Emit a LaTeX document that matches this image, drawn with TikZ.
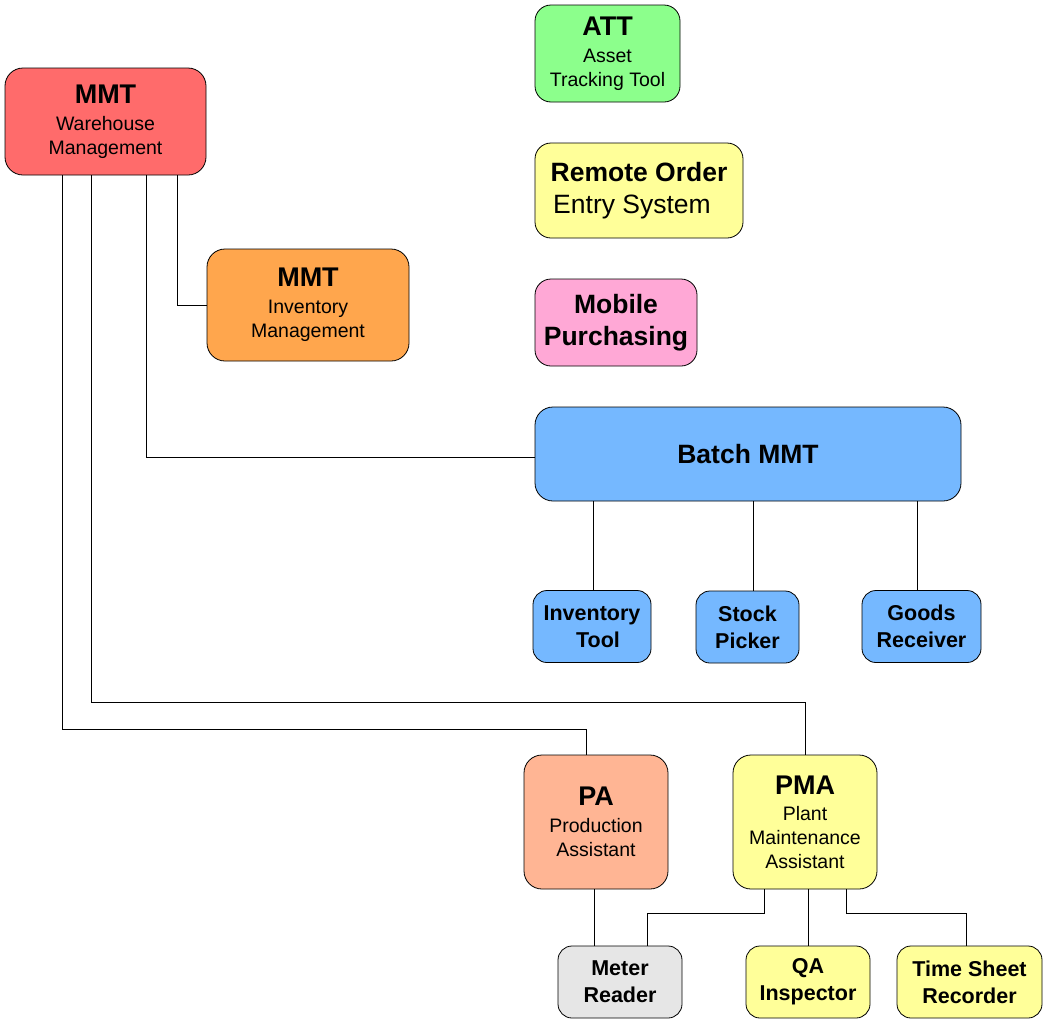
\documentclass[tikz,border=0pt]{standalone}
\usepackage{fontspec}
\setmainfont{Liberation Sans}
\usetikzlibrary{calc}
\definecolor{cred}{HTML}{FF6B6B}
\definecolor{corange}{HTML}{FFA64D}
\definecolor{cgreen}{HTML}{8CFF8C}
\definecolor{cyellow}{HTML}{FFFF99}
\definecolor{cpink}{HTML}{FFA8D6}
\definecolor{cblue}{HTML}{75B8FF}
\definecolor{csalmon}{HTML}{FFB594}
\definecolor{cgray}{HTML}{E6E6E6}
\newcommand\bigt[1]{{\fontsize{27}{24}\selectfont\bfseries #1}}
\begin{document}
\begin{tikzpicture}[x=1pt,y=-1pt,
  box/.style={draw=black, line width=0.8pt, rounded corners=16pt, align=center,
    inner sep=0pt, font=\fontsize{19.5}{24}\selectfont},
  bigbox/.style={box, font=\fontsize{26.5}{32}\selectfont},
  smallbox/.style={box, rounded corners=14pt, font=\fontsize{21.5}{27}\selectfont\bfseries,
    minimum height=72pt},
  link/.style={draw=black, line width=0.8pt},
]
\useasboundingbox (0,0) rectangle (1048,1023);

% top stand-alone boxes
\node[box, fill=cgreen, minimum width=145pt, minimum height=97pt] (att) at (607.5,53.5)
  {\bigt{ATT}\\[3pt]Asset\\Tracking Tool};
\node[bigbox, fill=cyellow, minimum width=208pt, minimum height=95pt] (reo) at (639,190.5)
  {\bfseries Remote Order\\\hspace*{-14pt}Entry System};
\node[bigbox, fill=cpink, minimum width=162pt, minimum height=87pt, font=\fontsize{26.5}{32}\selectfont\bfseries] (mob) at (616,322.5)
  {Mobile\\Purchasing};

% MMT boxes
\node[box, fill=cred, minimum width=201pt, minimum height=107pt, rounded corners=18pt] (mmtw) at (105.5,121.5)
  {\bigt{MMT}\\[3pt]Warehouse\\Management};
\node[box, fill=corange, minimum width=202pt, minimum height=112pt, rounded corners=18pt] (mmti) at (308,305)
  {\bigt{MMT}\\[3pt]Inventory\\Management};

% Batch MMT
\node[box, fill=cblue, minimum width=426pt, minimum height=94pt, rounded corners=18pt,
  font=\fontsize{26.5}{30}\selectfont\bfseries] (batch) at (748,454) {Batch MMT};
\node[smallbox, fill=cblue, minimum width=118pt] (invt) at (592,626.5) {Inventory\\\hspace*{12pt}Tool};
\node[smallbox, fill=cblue, minimum width=103pt] (stock) at (747.5,627) {Stock\\Picker};
\node[smallbox, fill=cblue, minimum width=119pt] (goods) at (921.5,626.5) {Goods\\Receiver};

% PA / PMA
\node[box, fill=csalmon, minimum width=144pt, minimum height=134pt, rounded corners=18pt] (pa) at (596,822)
  {\bigt{PA}\\[3pt]Production\\Assistant};
\node[box, fill=cyellow, minimum width=144pt, minimum height=134pt, rounded corners=18pt] (pma) at (805,822)
  {\bigt{PMA}\\[2pt]Plant\\Maintenance\\Assistant};

\node[smallbox, fill=cgray, minimum width=124pt] (meter) at (620,982) {Meter\\Reader};
\node[smallbox, fill=cyellow, minimum width=124pt] (qa) at (808,982) {QA\\Inspector};
\node[smallbox, fill=cyellow, minimum width=145pt] (tsr) at (969.5,982) {Time Sheet\\Recorder};

% connectors from MMT Warehouse
\draw[link] ([xshift=71.5pt]mmtw.south) |- (mmti.west);
\draw[link] ([xshift=40.5pt]mmtw.south) |- ([yshift=-3pt]batch.west);
\draw[link] ([xshift=-14.5pt]mmtw.south) |- ($(pma.north)+(0,-52)$) -- (pma.north);
\draw[link] ([xshift=-43.5pt]mmtw.south) |- ($([xshift=-10pt]pa.north)+(0,-25)$) -- ([xshift=-10pt]pa.north);

% Batch MMT children
\draw[link] ([xshift=1pt]invt.north) -- ([xshift=1pt]invt.north |- batch.south);
\draw[link] ([xshift=5.5pt]stock.north) -- ([xshift=5.5pt]stock.north |- batch.south);
\draw[link] ([xshift=-4.5pt]goods.north) -- ([xshift=-4.5pt]goods.north |- batch.south);

% PA / PMA children
\draw[link] ([xshift=-2pt]pa.south) -- ([xshift=-2pt]pa.south |- meter.north);
\draw[link] ([xshift=-41pt]pma.south) -- ++(0,24) -| ([xshift=27pt]meter.north);
\draw[link] ([xshift=3pt]pma.south) -- ([xshift=3pt]pma.south |- qa.north);
\draw[link] ([xshift=41pt]pma.south) -- ++(0,24) -| ([xshift=-3.5pt]tsr.north);
\end{tikzpicture}
\end{document}
